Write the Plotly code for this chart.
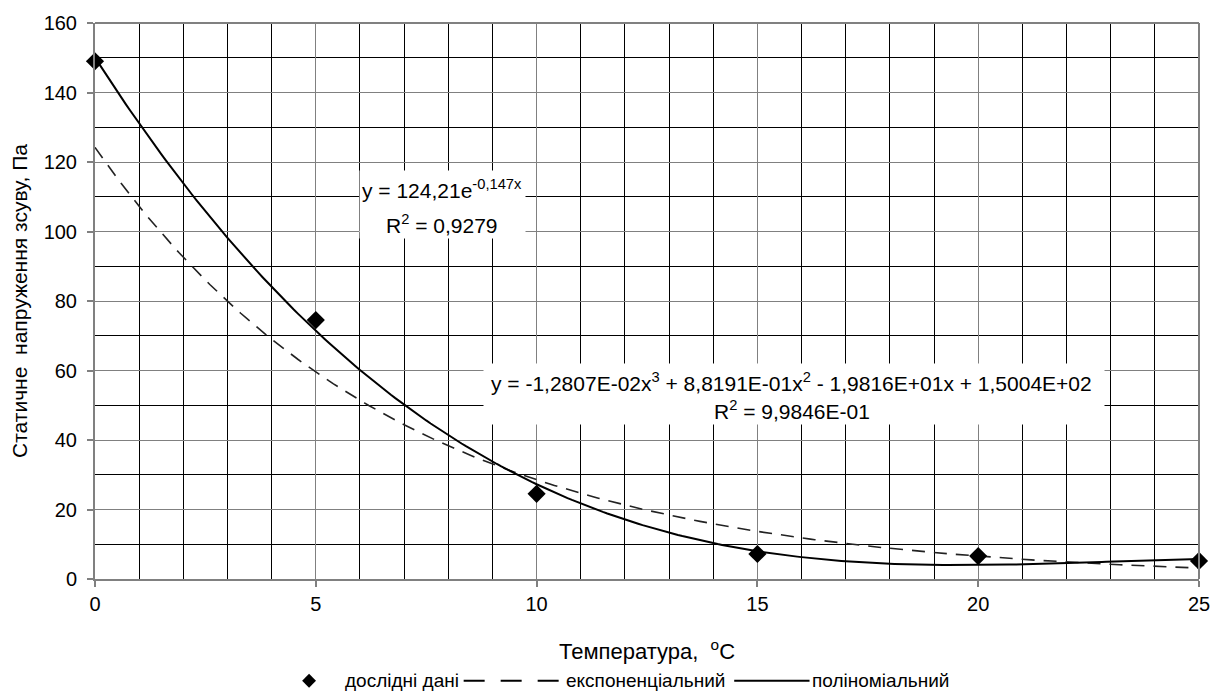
import numpy as np
import plotly.graph_objects as go

# Experimental data
temperature = [0, 5, 10, 15, 20, 25]
stress = [149, 74.5, 24.5, 7.2, 6.6, 5.2]

# Trendline coefficients (as shown in the chart)
exp_coef = [124.21, -0.147]
poly_coef = [-1.2807e-02, 8.8191e-01, -1.9816e+01, 1.5004e+02]

x_tick_vals = [0, 5, 10, 15, 20, 25]
y_tick_vals = [0, 20, 40, 60, 80, 100, 120, 140, 160]

legend_labels = ["дослідні дані", "експоненціальний", "поліноміальний"]

exp_eq_lines = ["y = 124,21e<sup>-0,147x</sup>", "R<sup>2</sup> = 0,9279"]
poly_eq_lines = ["y = -1,2807E-02x<sup>3</sup> + 8,8191E-01x<sup>2</sup> - 1,9816E+01x + 1,5004E+02",
                 "R<sup>2</sup> = 9,9846E-01"]

xs = np.linspace(0, 25, 251)
y_exp = exp_coef[0] * np.exp(exp_coef[1] * xs)
y_poly = np.polyval(poly_coef, xs)

FONT = "Liberation Sans, Arial, sans-serif"
FS_TICK = 20
FS_TITLE = 21
FS_EQ = 21
FS_LEG = 19

# plot area in pixels
L, R, T, B = 95, 1209, 22, 579


def px(x):
    return (x - L) / (R - L)


def py(y):
    return (B - y) / (B - T)


fig = go.Figure()

fig.add_trace(go.Scatter(
    x=xs, y=y_exp, mode="lines", name=legend_labels[1],
    line=dict(color="#222222", width=1.6, dash="13px,9px"), showlegend=False,
))
fig.add_trace(go.Scatter(
    x=xs, y=y_poly, mode="lines", name=legend_labels[2],
    line=dict(color="black", width=2), showlegend=False,
))
fig.add_trace(go.Scatter(
    x=temperature, y=stress, mode="markers", name=legend_labels[0],
    marker=dict(symbol="diamond", size=14, color="black"),
    cliponaxis=False, showlegend=False,
))


def eq_box(x0, x1, y0, y1, cx, lines_y, lines):
    fig.add_annotation(x=px((x0 + x1) / 2), y=py((y0 + y1) / 2), xref="paper", yref="paper",
                       xanchor="center", yanchor="middle",
                       text=" ", showarrow=False, bgcolor="white",
                       width=x1 - x0, height=y1 - y0, borderpad=0)
    for ly_, txt in zip(lines_y, lines):
        fig.add_annotation(x=px(cx), y=py(ly_), xref="paper", yref="paper",
                           text=txt, showarrow=False, xanchor="center", yanchor="middle",
                           font=dict(family=FONT, size=FS_EQ, color="black"))


eq_box(363, 528, 170, 237, 445, [188, 223], exp_eq_lines)
eq_box(490, 1110, 364, 424, 798, [382, 410], poly_eq_lines)

# Manual legend (bottom)
ly = 681
fig.add_shape(type="path", xref="paper", yref="paper",
              path="M {a},{b} L {c},{d} L {a},{e} L {f},{d} Z".format(
                  a=px(311), b=py(ly - 7), c=px(318), d=py(ly), e=py(ly + 7), f=px(304)),
              fillcolor="black", line=dict(color="black", width=0))
fig.add_annotation(x=px(345), y=py(ly), xref="paper", yref="paper",
                   text=legend_labels[0], showarrow=False, xanchor="left",
                   yanchor="middle", font=dict(family=FONT, size=FS_LEG, color="black"))
fig.add_shape(type="line", xref="paper", yref="paper",
              x0=px(467), x1=px(566), y0=py(ly), y1=py(ly),
              line=dict(color="black", width=2, dash="21px,16px"))
fig.add_annotation(x=px(568), y=py(ly), xref="paper", yref="paper",
                   text=legend_labels[1], showarrow=False, xanchor="left",
                   yanchor="middle", font=dict(family=FONT, size=FS_LEG, color="black"))
fig.add_shape(type="line", xref="paper", yref="paper",
              x0=px(740), x1=px(816), y0=py(ly), y1=py(ly),
              line=dict(color="black", width=2))
fig.add_annotation(x=px(816), y=py(ly), xref="paper", yref="paper",
                   text=legend_labels[2], showarrow=False, xanchor="left",
                   yanchor="middle", font=dict(family=FONT, size=FS_LEG, color="black"))

fig.update_xaxes(
    range=[0, 25], tickvals=x_tick_vals,
    showgrid=True, gridcolor="#808080", gridwidth=1,
    minor=dict(dtick=1, showgrid=True, gridcolor="black", gridwidth=1,
               ticks=""),
    showline=True, linecolor="#808080", linewidth=2,
    ticks="outside", ticklen=6, tickcolor="#808080", tickwidth=2,
    tickfont=dict(family=FONT, size=FS_TICK, color="black"),
    title=dict(text="Температура,  <sup>o</sup>C", standoff=30,
               font=dict(family=FONT, size=22, color="black")),
    zeroline=False, mirror=False,
)
fig.update_yaxes(
    range=[0, 160], tickvals=y_tick_vals,
    showgrid=True, gridcolor="#808080", gridwidth=1,
    minor=dict(dtick=10, showgrid=True, gridcolor="black", gridwidth=1,
               ticks=""),
    showline=True, linecolor="#808080", linewidth=2,
    ticks="outside", ticklen=6, tickcolor="#808080", tickwidth=2,
    ticklabelstandoff=6,
    tickfont=dict(family=FONT, size=FS_TICK, color="black"),
    title=dict(text="Статичне  напруження зсуву, Па", standoff=10,
               font=dict(family=FONT, size=FS_TITLE, color="black")),
    zeroline=False,
)

fig.add_shape(type="line", xref="paper", yref="paper", x0=1, x1=1, y0=0, y1=1,
              line=dict(color="#808080", width=2))
fig.add_shape(type="line", xref="paper", yref="paper", x0=0, x1=1, y0=1, y1=1,
              line=dict(color="#808080", width=2))

fig.update_layout(
    width=1222, height=693,
    margin=dict(l=L, r=1222 - R, t=T, b=693 - B),
    plot_bgcolor="white", paper_bgcolor="white",
    font=dict(family=FONT, size=FS_TICK, color="black"),
    showlegend=False,
)

fig.write_html("out.html")
